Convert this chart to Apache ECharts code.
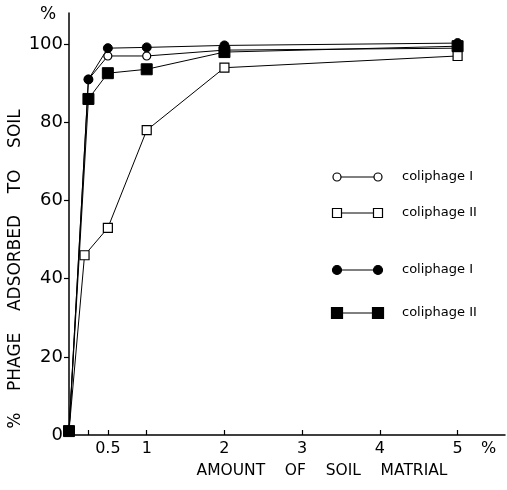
<!DOCTYPE html>
<html>
<head>
<meta charset="utf-8">
<script src="https://cdn.jsdelivr.net/npm/echarts@6/dist/echarts.min.js"></script>
<style>
  html, body { margin: 0; padding: 0; background: #fff; }
  #chart { width: 507px; height: 490px; }
</style>
</head>
<body>
<div id="chart"></div>
<script>
// Amount of soil material (%) for each measurement
const soilAmount = [0, 0.25, 0.5, 1, 2, 5];
const soilAmountSquareII = [0, 0.2, 0.5, 1, 2, 5];

// Percentage of phage adsorbed to soil
const openCircleI  = [1, 91, 97, 97, 98.5, 99];
const openSquareII = [1, 46, 53, 78, 94, 97];
const filledCircleI  = [1, 91, 99, 99.2, 99.7, 100.3];
const filledSquareII = [1, 86, 92.6, 93.6, 98, 99.5];

// Axis ticks and labels
const xTickValues = [0.25, 0.5, 1, 2, 3, 4, 5];
const xLabelValues = [0.5, 1, 2, 3, 4, 5, 5.4];
const yTickValues = [0, 20, 40, 60, 80, 100];

const legendNames = ['coliphage I', 'coliphage II', 'coliphage I', 'coliphage II'];
const xTitle = 'AMOUNT    OF    SOIL    MATRIAL';
const yTitle = '%    PHAGE    ADSORBED    TO    SOIL';

const FONT = '"DejaVu Sans", sans-serif';

function pairs(xs, ys) { return xs.map((x, i) => [x, ys[i]]); }

const chart = echarts.init(document.getElementById('chart'));

const baseSeries = {
  type: 'line',
  symbolKeepAspect: true,
  lineStyle: { color: '#000', width: 1 },
  z: 3,
  animation: false
};

// legend drawn as small sample lines with markers at both ends
const legendRows = [
  { y: 177, sym: 'circle', filled: false, size: 8 },
  { y: 213, sym: 'rect', filled: false, size: 9 },
  { y: 270, sym: 'circle', filled: true, size: 9 },
  { y: 313, sym: 'rect', filled: true, size: 11 }
];
const graphics = [];
legendRows.forEach((r, i) => {
  const x0 = 337, x1 = 378;
  graphics.push({ type: 'line', shape: { x1: x0, y1: r.y, x2: x1, y2: r.y }, style: { stroke: '#000', lineWidth: 1 } });
  [x0, x1].forEach(cx => {
    const fill = r.filled ? '#000' : '#fff';
    if (r.sym === 'circle') {
      graphics.push({ type: 'circle', shape: { cx: cx, cy: r.y, r: r.size / 2 }, style: { fill: fill, stroke: '#000', lineWidth: 1.2 }, z: 10 });
    } else {
      graphics.push({ type: 'rect', shape: { x: cx - r.size / 2, y: r.y - r.size / 2, width: r.size, height: r.size }, style: { fill: fill, stroke: '#000', lineWidth: 1.2 }, z: 10 });
    }
  });
  graphics.push({ type: 'text', x: 402, y: r.y, style: { text: legendNames[i], font: '13px ' + FONT, fill: '#000', textVerticalAlign: 'middle' }, z: 10 });
});
// "%" unit above the y axis
graphics.push({ type: 'text', x: 48, y: 15, style: { text: '%', font: '17px ' + FONT, fill: '#000', textAlign: 'center', textVerticalAlign: 'middle' } });
// axis titles
graphics.push({ type: 'text', x: 16, y: 269, rotation: Math.PI / 2, style: { text: yTitle, font: '17px ' + FONT, fill: '#000', textAlign: 'center', textVerticalAlign: 'middle' } });
graphics.push({ type: 'text', x: 322, y: 471, style: { text: xTitle, font: '15.5px ' + FONT, fill: '#000', textAlign: 'center', textVerticalAlign: 'middle' } });

chart.setOption({
  backgroundColor: '#fff',
  animation: false,
  grid: { left: 69, right: 2, top: 13, bottom: 55, containLabel: false, outerBoundsMode: 'none' },
  xAxis: {
    type: 'value',
    min: 0,
    max: 5.61,
    axisLine: { show: true, lineStyle: { color: '#000', width: 1.5 } },
    axisTick: { show: true, inside: true, length: 5, customValues: xTickValues, lineStyle: { color: '#000', width: 1.2 } },
    axisLabel: {
      customValues: xLabelValues,
      fontFamily: FONT, fontSize: 16, color: '#000', margin: 6,
      formatter: v => (v > 5.2 ? '%' : String(v))
    },
    splitLine: { show: false }
  },
  yAxis: {
    type: 'value',
    min: 0,
    max: 108,
    axisLine: { show: true, lineStyle: { color: '#000', width: 1.5 } },
    axisTick: { show: true, inside: false, length: 5, customValues: yTickValues, lineStyle: { color: '#000', width: 1.2 } },
    axisLabel: { customValues: yTickValues, fontFamily: FONT, fontSize: 18, color: '#000', margin: 6 },
    splitLine: { show: false }
  },
  graphic: graphics,
  series: [
    Object.assign({}, baseSeries, {
      name: legendNames[0],
      data: pairs(soilAmount, openCircleI),
      symbol: 'circle', symbolSize: 8,
      itemStyle: { color: '#fff', borderColor: '#000', borderWidth: 1.2 }
    }),
    Object.assign({}, baseSeries, {
      name: legendNames[1],
      data: pairs(soilAmountSquareII, openSquareII),
      symbol: 'rect', symbolSize: 9,
      itemStyle: { color: '#fff', borderColor: '#000', borderWidth: 1.2 }
    }),
    Object.assign({}, baseSeries, {
      name: legendNames[2],
      data: pairs(soilAmount, filledCircleI),
      symbol: 'circle', symbolSize: 9,
      itemStyle: { color: '#000', borderColor: '#000', borderWidth: 1 }
    }),
    Object.assign({}, baseSeries, {
      name: legendNames[3],
      data: pairs(soilAmount, filledSquareII),
      symbol: 'rect', symbolSize: 11,
      itemStyle: { color: '#000', borderColor: '#000', borderWidth: 1 }
    })
  ]
});
</script>
</body>
</html>
